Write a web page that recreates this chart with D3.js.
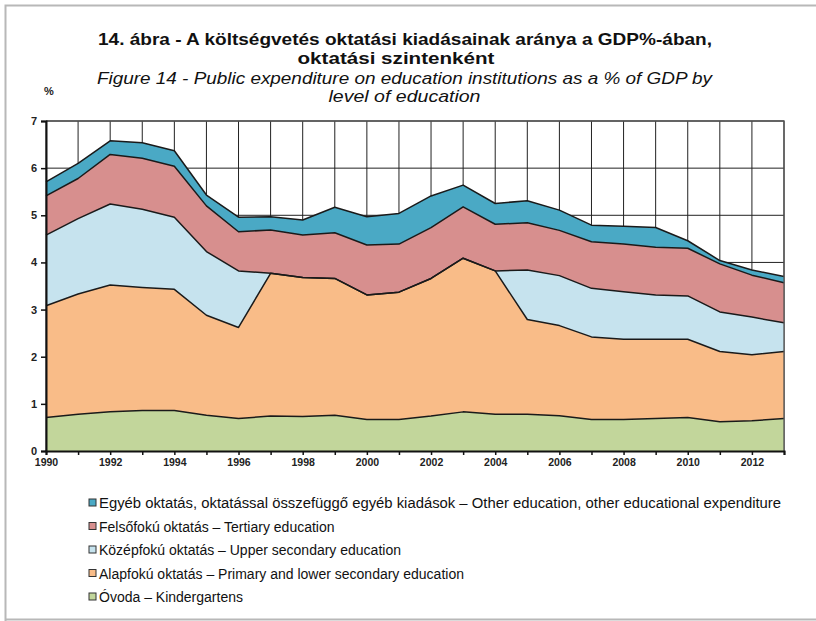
<!DOCTYPE html>
<html><head><meta charset="utf-8">
<script src="https://cdn.jsdelivr.net/npm/d3@7"></script>
<style>
body{margin:0;background:#fff;}
svg{display:block;font-family:"Liberation Sans",Arial,sans-serif;}
</style></head>
<body><svg id="c" width="816" height="621"></svg>
<script>
const years = d3.range(1990, 2014);
const kindergarten = [0.71,0.78,0.83,0.86,0.86,0.76,0.69,0.74,0.73,0.76,0.67,0.67,0.74,0.83,0.78,0.78,0.75,0.67,0.67,0.69,0.71,0.62,0.64,0.69];
const primary = [2.37,2.55,2.69,2.61,2.57,2.12,1.93,3.03,2.95,2.90,2.64,2.70,2.92,3.26,3.04,2.01,1.91,1.75,1.70,1.68,1.66,1.49,1.40,1.42];
const upperSecondary = [1.50,1.60,1.72,1.66,1.53,1.35,1.20,0,0,0,0,0,0,0,0,1.05,1.06,1.03,1.01,0.94,0.92,0.84,0.80,0.61];
const tertiary = [0.83,0.85,1.05,1.08,1.08,0.97,0.83,0.92,0.90,0.97,1.06,1.02,1.08,1.09,0.99,1.00,0.96,0.99,1.01,1.01,1.01,1.02,0.89,0.85];
const other = [0.30,0.32,0.29,0.33,0.33,0.23,0.31,0.28,0.32,0.54,0.60,0.65,0.67,0.46,0.44,0.47,0.43,0.35,0.38,0.42,0.16,0.07,0.11,0.13];
const seriesKeys = ["kindergarten","primary","upperSecondary","tertiary","other"];
const seriesColors = ["#c2d69b","#f9bc88","#c6e3ee","#d78f8e","#4aa9c5"];
const legendLabels = [
  "Egyéb oktatás, oktatással összefüggő egyéb kiadások – Other education, other educational expenditure",
  "Felsőfokú oktatás – Tertiary education",
  "Középfokú oktatás  – Upper secondary education",
  "Alapfokú oktatás  – Primary and lower secondary education",
  "Óvoda  – Kindergartens"
];
const legendColors = ["#4aa9c5","#d78f8e","#c6e3ee","#f9bc88","#c2d69b"];
const yTicks = [0,1,2,3,4,5,6,7];
const xTickLabels = d3.range(1990, 2014, 2);
const titleLines = ["14. ábra - A költségvetés oktatási kiadásainak aránya a GDP%-ában,","oktatási szintenként"];
const subtitleLines = ["Figure 14 - Public expenditure on education institutions as a % of GDP by","level of education"];

const rows = years.map((y,i)=>({year:y,kindergarten:kindergarten[i],primary:primary[i],upperSecondary:upperSecondary[i],tertiary:tertiary[i],other:other[i]}));
const svg = d3.select("#c");

// outer frame
svg.append("path").attr("d","M5.5,621 V5.5 H816 M5.5,619.5 H816").attr("fill","none").attr("stroke","#b8b8b8").attr("stroke-width",2);

const x = d3.scaleLinear().domain([1990,2013]).range([46,784]);
const y = d3.scaleLinear().domain([0,7]).range([451,121]);

// grid
const g = svg.append("g");
g.selectAll(".vg").data(years).join("line")
  .attr("x1",d=>x(d)).attr("x2",d=>x(d)).attr("y1",y(0)).attr("y2",y(7))
  .attr("stroke","#222").attr("stroke-width",1);
g.selectAll(".hg").data(yTicks).join("line")
  .attr("x1",x(1990)).attr("x2",x(2013)).attr("y1",d=>y(d)).attr("y2",d=>y(d))
  .attr("stroke","#222").attr("stroke-width",1);

// stacked areas
const stack = d3.stack().keys(seriesKeys)(rows);
const area = d3.area().x(d=>x(d.data.year)).y0(d=>y(d[0])).y1(d=>y(d[1]));
const line = d3.line().x(d=>x(d.data.year)).y(d=>y(d[1]));
svg.append("g").selectAll("path").data(stack).join("path")
  .attr("d",area).attr("fill",(d,i)=>seriesColors[i]);
svg.append("g").selectAll("path").data(stack).join("path")
  .attr("d",line).attr("fill","none").attr("stroke","#1a1a1a").attr("stroke-width",1.5).attr("stroke-linejoin","round");

// plot frame right/top
svg.append("path").attr("d",`M${x(1990)},${y(7)} H${x(2013)} V${y(0)}`).attr("fill","none").attr("stroke","#555").attr("stroke-width",1.3);

// axes
const yAxis = d3.axisLeft(y).tickValues(yTicks).tickSize(5).tickFormat(d3.format("d"));
const ya = svg.append("g").attr("transform",`translate(${x(1990)},0)`).call(yAxis);
ya.select(".domain").attr("stroke","#111").attr("stroke-width",2);
ya.selectAll(".tick line").attr("stroke","#111").attr("stroke-width",1.5);
ya.selectAll("text").attr("font-size",11).attr("font-weight","bold").attr("fill","#222").attr("x",-9);

const xAxis = d3.axisBottom(x).tickValues(years).tickSize(4).tickFormat(d=> xTickLabels.includes(d) ? d : "");
const xa = svg.append("g").attr("transform",`translate(0,${y(0)})`).call(xAxis);
xa.select(".domain").attr("stroke","#111").attr("stroke-width",2);
xa.selectAll(".tick line").attr("stroke","#111").attr("stroke-width",1.5);
xa.selectAll("text").attr("font-size",10.5).attr("font-weight","bold").attr("fill","#222").attr("dy","0.9em").attr("y",6);

// titles
const titleWidths = [614, 197];
const titleX = [405, 396];
const subtitleWidths = [615, 152];
svg.selectAll(".t1").data(titleLines).join("text")
  .attr("x",(d,i)=>titleX[i]).attr("y",(d,i)=>45+i*19.3).attr("text-anchor","middle")
  .attr("font-size",17).attr("font-weight","bold").attr("fill","#111")
  .attr("textLength",(d,i)=>titleWidths[i]).attr("lengthAdjust","spacingAndGlyphs").text(d=>d);
svg.selectAll(".t2").data(subtitleLines).join("text")
  .attr("x",404.5).attr("y",(d,i)=>83.5+i*18.7).attr("text-anchor","middle")
  .attr("font-size",17).attr("font-style","italic").attr("fill","#111")
  .attr("textLength",(d,i)=>subtitleWidths[i]).attr("lengthAdjust","spacingAndGlyphs").text(d=>d);
svg.append("text").attr("x",44).attr("y",95).attr("font-size",11).attr("font-weight","bold").attr("fill","#222").text("%");

// legend
const lg = svg.append("g").selectAll("g").data(legendLabels).join("g")
  .attr("transform",(d,i)=>`translate(89,${508+i*23.5})`);
lg.append("rect").attr("x",0).attr("y",-9).attr("width",7).attr("height",7)
  .attr("fill",(d,i)=>legendColors[i]).attr("stroke","#333").attr("stroke-width",1);
lg.append("text").attr("x",10).attr("y",0).attr("font-size",14).attr("fill","#111")
  .attr("textLength",(d,i)=> i===0 ? 682 : null).attr("lengthAdjust","spacingAndGlyphs").text(d=>d);
</script></body></html>
